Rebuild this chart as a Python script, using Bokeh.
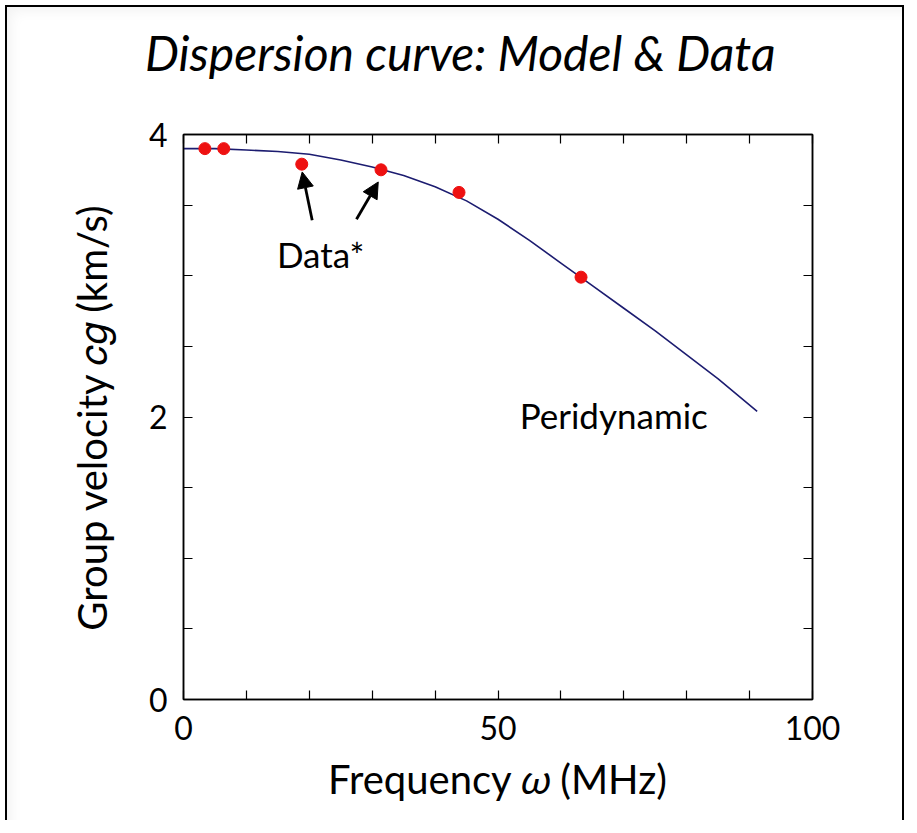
import numpy as np
from bokeh.plotting import figure
from bokeh.models import Range1d, LinearAxis, FixedTicker, Label, Arrow, NormalHead
from bokeh.embed import file_html
from bokeh.resources import INLINE

# ---- data ----
model_freq = [0, 5, 10, 15, 20, 25, 30, 35, 40, 45, 50, 55, 60, 65, 70, 75, 80, 85, 91.2]
model_cg = [3.90, 3.90, 3.89, 3.88, 3.86, 3.82, 3.77, 3.71, 3.63, 3.53, 3.40, 3.25, 3.09, 2.93, 2.77, 2.61, 2.44, 2.27, 2.04]
data_freq = [3.4, 6.4, 18.8, 31.4, 43.8, 63.2]
data_cg = [3.90, 3.90, 3.79, 3.75, 3.59, 2.99]

x_ticks = [0, 10, 20, 30, 40, 50, 60, 70, 80, 90, 100]
x_tick_labels = {0: "0", 50: "50", 100: "100"}
y_ticks = [0, 0.5, 1, 1.5, 2, 2.5, 3, 3.5, 4]
y_tick_labels = {0: "0", 2: "2", 4: "4"}

TITLE = "Dispersion curve: Model & Data"
X_LABEL = "Frequency 𝜔 (MHz)"
Y_LABEL = "Group velocity 𝑐𝑔 (km/s)"

FONT = "Lato"

p = figure(frame_width=629, frame_height=565,
           x_range=Range1d(0, 100), y_range=Range1d(0, 4),
           output_backend="svg", toolbar_location=None,
           min_border_left=183, min_border_right=97,
           min_border_top=134, min_border_bottom=121)
p.styles = {"box-shadow": "inset 0 5px 0 0 white, inset 5px 0 0 0 white, inset -5px 0 0 0 white, "
                          "inset 0 7px 0 0 black, inset 7px 0 0 0 black, inset -7px 0 0 0 black, "
                          "inset 16px 16px 14px -6px rgba(0,0,0,0.06)"}
p.background_fill_color = "white"
p.border_fill_alpha = 0
p.outline_line_color = "black"
p.outline_line_width = 1.5
p.xgrid.visible = False
p.ygrid.visible = False

def style_axis(ax, ticks, labels, size):
    ax.ticker = FixedTicker(ticks=ticks, minor_ticks=[])
    ax.major_label_overrides = {t: labels.get(t, "") for t in ticks}
    ax.major_tick_in = 9
    ax.major_tick_out = 0
    ax.minor_tick_in = 0
    ax.minor_tick_out = 0
    ax.axis_line_color = "black"
    ax.axis_line_width = 1.5
    ax.major_tick_line_color = "black"
    ax.major_tick_line_width = 1.2
    ax.major_label_text_font = FONT
    ax.major_label_text_font_size = size
    ax.major_label_text_color = "black"
    ax.axis_label_text_font = FONT
    ax.axis_label_text_font_style = "normal"
    ax.axis_label_text_font_size = "40px"
    ax.axis_label_text_color = "black"

xa = p.xaxis[0]
style_axis(xa, x_ticks, x_tick_labels, "32px")
xa.major_label_standoff = 16
xa.axis_label = X_LABEL
xa.axis_label_standoff = 12

ya = p.yaxis[0]
style_axis(ya, y_ticks, y_tick_labels, "32px")
ya.major_label_standoff = 16
ya.major_label_orientation = "horizontal"
ya.axis_label = Y_LABEL
ya.axis_label_standoff = 30

top = LinearAxis()
style_axis(top, x_ticks, {}, "0px")
top.major_label_standoff = 0
p.add_layout(top, "above")
right = LinearAxis()
style_axis(right, y_ticks, {}, "0px")
right.major_label_standoff = 0
p.add_layout(right, "right")

# chart title, centred over the slide rather than the frame
title_axis = LinearAxis(ticker=FixedTicker(ticks=[44.0], minor_ticks=[]),
                        major_label_overrides={44.0: TITLE})
title_axis.axis_line_color = None
title_axis.major_tick_line_color = None
title_axis.minor_tick_line_color = None
title_axis.major_label_text_font = FONT
title_axis.major_label_text_font_style = "italic"
title_axis.major_label_text_font_size = "48px"
title_axis.major_label_text_color = "black"
title_axis.major_label_standoff = 48
p.add_layout(title_axis, "above")

# model curve
p.line(model_freq, model_cg, line_color="#1c1c70", line_width=1.6)
# data points
p.scatter(data_freq, data_cg, size=12, fill_color="#ee1111", line_color="#ee1111")

# annotations
def dlabel(x, y, text, size="35px"):
    p.add_layout(Label(x=x, y=y, text=text, text_font=FONT, text_font_size=size,
                       text_align="center", text_baseline="alphabetic", text_color="black"))

dlabel(21.8, 3.153, "Data*")
dlabel(68.4, 2.013, "Peridynamic")
for xs, ys, xe, ye in [(20.46, 3.393, 18.87, 3.735), (27.5, 3.40, 30.96, 3.664)]:
    p.add_layout(Arrow(x_start=xs, y_start=ys, x_end=xe, y_end=ye, line_width=2.8, line_color="black",
                       end=NormalHead(size=16, fill_color="black", line_color="black")))

open("out.html", "w").write(file_html(p, INLINE))
